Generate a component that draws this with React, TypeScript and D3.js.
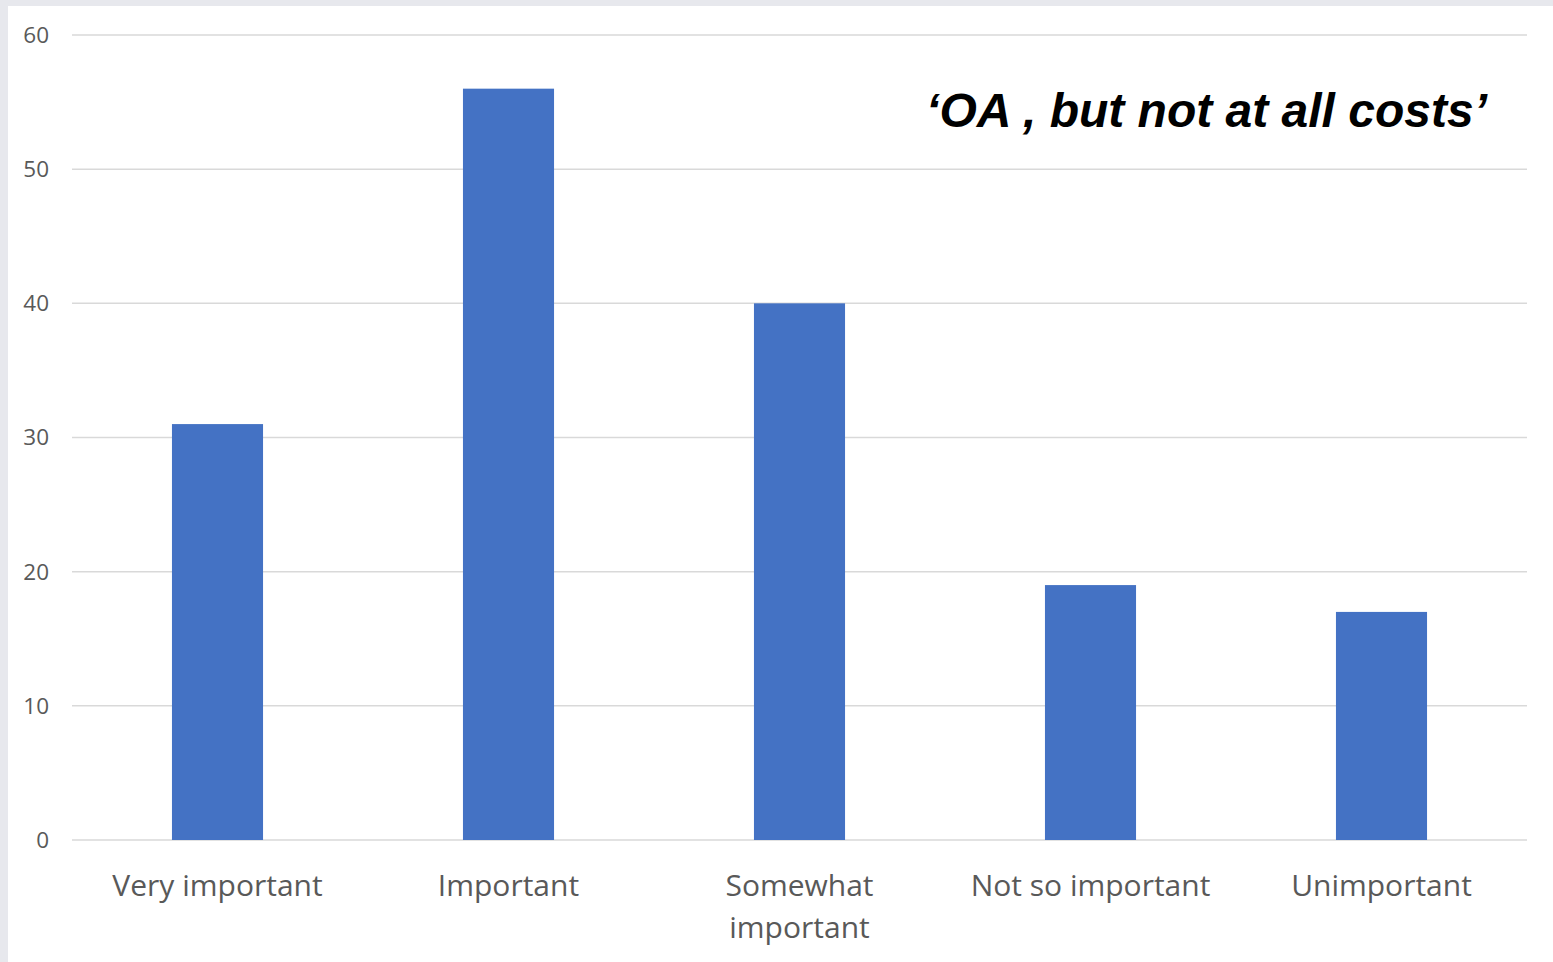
import React from "react";
import * as d3 from "d3";

const categories: string[][] = [
  ["Very important"],
  ["Important"],
  ["Somewhat", "important"],
  ["Not so important"],
  ["Unimportant"],
];
const values: number[] = [31, 56, 40, 19, 17];
const yTicks: number[] = [0, 10, 20, 30, 40, 50, 60];
const title = "\u2018OA , but not at all costs\u2019";

const W = 1553;
const H = 962;
const left = 72;
const right = 1527;
const top = 35;
const bottom = 840;

export default function App() {
  const x = d3
    .scaleBand<number>()
    .domain(values.map((_, i) => i))
    .range([left, right])
    .paddingInner(0.687)
    .paddingOuter(0.3435);
  const y = d3.scaleLinear().domain([0, 60]).range([bottom, top]);

  return (
    <svg width={W} height={H} style={{ position: "absolute", left: 0, top: 0 }}>
      <rect x={0} y={0} width={W} height={H} fill="#e7e8ed" />
      <rect x={8} y={6} width={W - 8} height={H - 6} fill="#ffffff" />
      {yTicks.map((t) => (
        <g key={t}>
          <line x1={left} x2={right} y1={y(t)} y2={y(t)} stroke="#d9d9d9" strokeWidth={1.5} />
          <text
            x={49}
            y={y(t)}
            dy="0.35em"
            textAnchor="end"
            fontFamily="'Open Sans', sans-serif"
            fontSize={22.5}
            fill="#595959"
          >
            {t}
          </text>
        </g>
      ))}
      {values.map((v, i) => (
        <rect
          key={i}
          x={x(i)}
          y={y(v)}
          width={x.bandwidth()}
          height={y(0) - y(v)}
          fill="#4472c4"
        />
      ))}
      {categories.map((lines, i) => (
        <text
          key={i}
          x={(x(i) as number) + x.bandwidth() / 2}
          y={896}
          textAnchor="middle"
          fontFamily="'Open Sans', sans-serif"
          fontSize={30}
          fill="#595959"
        >
          {lines.map((l, j) => (
            <tspan key={j} x={(x(i) as number) + x.bandwidth() / 2} dy={j === 0 ? 0 : 42}>
              {l}
            </tspan>
          ))}
        </text>
      ))}
      <text
        x={1487}
        y={127}
        textAnchor="end"
        fontFamily="'Liberation Sans', Arial, sans-serif"
        fontWeight="bold"
        fontStyle="italic"
        fontSize={48}
        fill="#000000"
      >
        {title}
      </text>
    </svg>
  );
}
